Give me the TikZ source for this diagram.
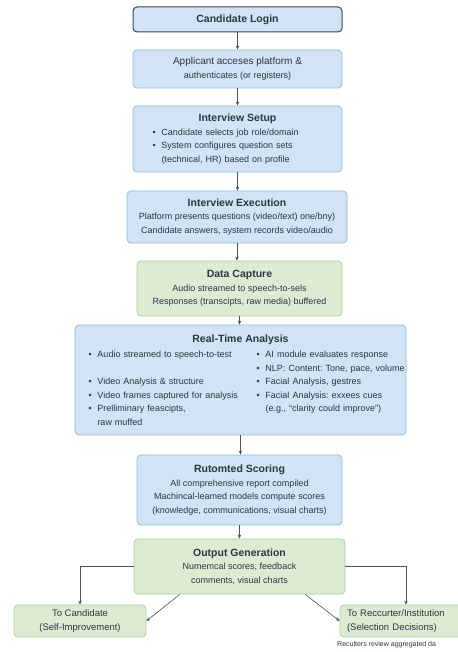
\documentclass[tikz,border=0pt]{standalone}
\usepackage{fontspec}
\setmainfont{Liberation Sans}
\usetikzlibrary{arrows.meta}
\definecolor{boxblue}{HTML}{D0E4F5}
\definecolor{lineblue}{HTML}{92BDDF}
\definecolor{boxgreen}{HTML}{DDEBD3}
\definecolor{linegreen}{HTML}{AFCC99}
\definecolor{navy}{HTML}{34495C}
\definecolor{inkgray}{HTML}{2A3744}
\newcommand{\bul}{\hangindent=9pt\hangafter=1\makebox[9pt][l]{\textbullet}}
\newcommand{\hd}[1]{{\fontsize{10.5}{13}\selectfont\bfseries #1}}
\frenchspacing

\begin{document}
\begin{tikzpicture}[x=1pt,y=-1pt,
    every node/.style={text=inkgray,font=\fontsize{9}{13.5}\selectfont},
    bluebox/.style={draw=lineblue,fill=boxblue,rounded corners=4pt,line width=0.8pt,align=center,inner sep=3pt},
    greenbox/.style={draw=linegreen,fill=boxgreen,rounded corners=4pt,line width=0.8pt,align=center,inner sep=3pt},
    flow/.style={-{Stealth[length=4pt,width=3.5pt]},draw=inkgray!85,line width=0.6pt}]
    \useasboundingbox[fill=white] (0,0) rectangle (457,652);
    \node[bluebox,draw=navy,line width=1pt,minimum width=209pt,minimum height=25pt] (login) at (237.5,19.5) {\hd{Candidate Login}};
    \node[bluebox,minimum width=209pt,minimum height=38pt] (access) at (237.5,69) {{\fontsize{10}{12}\selectfont Applicant acceses platform \&}\\ authenticates (or registers)};
    \node[bluebox,minimum width=209pt,minimum height=66pt,text width=170pt,align=left] (setup) at (237.5,139)
      {{\centering\hd{Interview Setup}\par}
       \begin{minipage}[t]{170pt}\raggedright
       \bul Candidate selects job role/domain\par
       \bul System configures question sets\newline (technical, HR) based on profile
       \end{minipage}};
    \node[bluebox,minimum width=220pt,minimum height=52pt] (exec) at (237,217)
      {\hd{Interview Execution}\\ Platform presents questions (video/text) one/bny)\\ Candidate answers, system records video/audio};
    \node[greenbox,minimum width=205pt,minimum height=55pt] (capture) at (239.5,288.5)
      {\hd{Data Capture}\\ Audio streamed to speech-to-sels\\ Responses (transcipts, raw media) buffered};
    \node[bluebox,minimum width=331pt,minimum height=110pt,text width=304pt,align=left] (rta) at (240.5,380)
      {{\centering\hd{Real-Time Analysis}\par}\vspace{2pt}
       \begin{minipage}[t]{168pt}\raggedright
         \bul Audio streamed to speech-to-test\par\vspace{13.5pt}
         \bul Video Analysis \& structure\par
         \bul Video frames captured for analysis\par
         \bul Prelliminary feascipts,\newline raw muffed
       \end{minipage}\begin{minipage}[t]{136pt}\raggedright
         \bul AI module evaluates response\par
         \bul \mbox{NLP: Content: Tone, pace, volume}\par
         \bul Facial Analysis, gestres\par
         \bul Facial Analysis: exxees cues\newline \mbox{(e.g., “clarity could improve”)}
       \end{minipage}};
    \node[bluebox,minimum width=205pt,minimum height=70pt] (score) at (239.5,490)
      {\hd{Rutomted Scoring}\\ All comprehensive report compiled\\ Machincal-leamed models compute scores\\ (knowledge, communications, visual charts)};
    \node[greenbox,minimum width=211pt,minimum height=55pt] (output) at (239.5,566.5)
      {\hd{Output Generation}\\ Numemcal scores, feedback\\ comments, visual charts};
    \node[greenbox,minimum width=132pt,minimum height=32pt,inner sep=2pt,font=\fontsize{9.5}{14}\selectfont] (cand) at (80,621)
      {To Candidate\\ (Self-Improvement)};
    \node[greenbox,minimum width=132pt,minimum height=32pt,inner sep=2pt,align=left,text width=118pt,font=\fontsize{9.5}{14}\selectfont] (recr) at (406,621)
      {To Reccurter/Institution\\ (Selection Decisions)};
    \node[font=\fontsize{7}{8}\selectfont,anchor=west,inner sep=0pt] (note) at (337,645) {Reculters review aggregated da};
    \draw[flow] (login.south) -- (login.south |- access.north);
    \draw[flow] (access.south) -- (access.south |- setup.north);
    \draw[flow] (setup.south) -- (setup.south |- exec.north);
    \draw[flow] (exec.south) -- (exec.south |- capture.north);
    \draw[flow] (capture.south) -- (capture.south |- rta.north);
    \draw[flow] (rta.south) -- (rta.south |- score.north);
    \draw[flow] (score.south) -- (score.south |- output.north);
    \draw[flow] (output.west) -| (cand.north);
    \draw[flow] (output.east) -| (recr.north);
    \draw[flow] (output.205) -- (cand.east);
    \draw[flow] (output.-23) -- (recr.west);
\end{tikzpicture}
\end{document}
